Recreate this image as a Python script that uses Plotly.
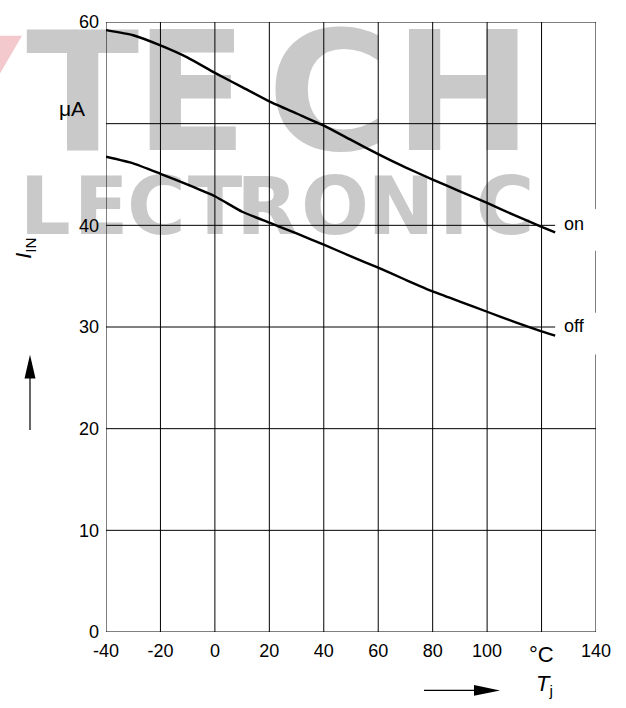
import plotly.graph_objects as go

# ---- data ----
temp = [-40, -30, -20, -10, 0, 10, 20, 30, 40, 50, 60, 70, 80, 90, 100, 110, 120, 125]
i_on = [59.2, 58.7, 57.7, 56.5, 55.0, 53.6, 52.2, 51.0, 49.8, 48.4, 47.0, 45.7, 44.5, 43.35, 42.2, 41.0, 39.85, 39.3]
i_off = [46.75, 46.1, 45.07, 44.0, 42.86, 41.34, 40.27, 39.2, 38.1, 36.95, 35.83, 34.65, 33.5, 32.5, 31.5, 30.5, 29.57, 29.15]

x_ticks = [-40, -20, 0, 20, 40, 60, 80, 100, 120, 140]
x_tick_text = ["-40", "-20", "0", "20", "40", "60", "80", "100", "", "140"]
y_ticks = [0, 10, 20, 30, 40, 50, 60]
y_tick_text = ["0", "10", "20", "30", "40", "", "60"]

curve_labels = ["on", "off"]

# watermark letters (decoration, drawn beneath the curves)
NB = "\u00a0"
wm_text = ["T", "E", "C", "H",
           "L" + NB * 2, "E", "C", "T", "R", "O", "N", "I", "C"]
wm_x = [-27.8, -8.7, 41.6, 91.2,
        -32.5, -31.8, -21.5, 0.1, 19.2, 44.1, 68.4, 87.8, 106.6]
wm_y = [51.5, 51.5, 51.5, 51.5,
        41.1, 41.1, 41.1, 41.1, 41.1, 41.1, 41.1, 41.1, 41.1]
wm_size = [166, 166, 166, 166,
           80, 80, 80, 80, 80, 80, 80, 80, 80]
wm_pos = ["middle left", "middle center", "middle center", "middle center",
          "middle left", "middle left", "middle center", "middle center", "middle center",
          "middle center", "middle center", "middle center", "middle center"]

FONT = "Liberation Sans, Arial, Helvetica, sans-serif"

fig = go.Figure()

fig.add_trace(go.Scatter(
    x=wm_x, y=wm_y, mode="text", text=wm_text, textposition=wm_pos,
    textfont=dict(family="Liberation Sans Narrow, DejaVu Sans, sans-serif", size=wm_size,
                  color="#c9c9c9", weight="bold"),
    cliponaxis=False, hoverinfo="skip", showlegend=False))

# curves
for ys in (i_on, i_off):
    fig.add_trace(go.Scatter(
        x=temp, y=ys, mode="lines",
        line=dict(color="black", width=2.4, shape="spline", smoothing=0.5),
        hoverinfo="skip", showlegend=False, cliponaxis=False))

shapes = []
xmin, xmax = x_ticks[0], x_ticks[-1]
ymin, ymax = y_ticks[0], y_ticks[-1]
curve_end = temp[-1]
line_style = dict(color="black", width=1)

# vertical grid lines (left border included; right border drawn with gaps)
for xv in x_ticks[:-1]:
    shapes.append(dict(type="line", xref="x", yref="y", x0=xv, x1=xv, y0=ymin, y1=ymax,
                       line=line_style, layer="above"))
# right border with gaps next to the curve labels
for y0, y1 in [(ymax, 41.6), (37.5, 31.4), (27.3, ymin)]:
    shapes.append(dict(type="line", xref="x", yref="y", x0=xmax, x1=xmax, y0=y0, y1=y1,
                       line=line_style, layer="above"))
# horizontal grid lines
for yv in y_ticks:
    xe = curve_end if yv in (30, 40) else xmax
    shapes.append(dict(type="line", xref="x", yref="y", x0=xmin, x1=xe, y0=yv, y1=yv,
                       line=line_style, layer="above"))

# pixel -> paper helpers for decorations
L, R, T, B, W, H = 106, 30, 16, 76, 626, 708
PW, PH = W - L - R, H - T - B
def px(x):
    return (x - L) / PW
def py(y):
    return (H - B - y) / PH

# pink logo fragment top-left
shapes.append(dict(type="path", xref="paper", yref="paper",
                   path=f"M {px(0)} {py(30)} L {px(22)} {py(30)} L {px(0)} {py(68)} Z",
                   fillcolor="#f3c9cd", line=dict(width=0), layer="below"))

# up arrow beside y title
shapes.append(dict(type="line", xref="paper", yref="paper", x0=px(30), x1=px(30),
                   y0=py(428), y1=py(372), line=dict(color="black", width=1.2)))
shapes.append(dict(type="path", xref="paper", yref="paper",
                   path=f"M {px(30)} {py(352)} L {px(24.5)} {py(376)} L {px(35.5)} {py(376)} Z",
                   fillcolor="black", line=dict(width=0)))
# right arrow beside x title
shapes.append(dict(type="line", xref="paper", yref="paper", x0=px(424), x1=px(478),
                   y0=py(691), y1=py(691), line=dict(color="black", width=1.2)))
shapes.append(dict(type="path", xref="paper", yref="paper",
                   path=f"M {px(500)} {py(691)} L {px(474)} {py(685.5)} L {px(474)} {py(696.5)} Z",
                   fillcolor="black", line=dict(width=0)))

def ann(x, y, text, size, xref="paper", yref="paper", **kw):
    d = dict(x=x, y=y, xref=xref, yref=yref, text=text, showarrow=False,
             xanchor="center", yanchor="middle",
             font=dict(family=FONT, size=size, color="black"))
    d.update(kw)
    return d

annotations = [
    ann(px(72), py(103), "μA", 21),
    ann(120, py(655), "°C", 22, xref="x"),
    ann(px(25), py(244), "<i>I</i><sub>IN</sub>", 22, textangle=-90),
    ann(px(544), py(686), "<i>T</i><sub>j</sub>", 22),
    ann(127.5, 40.1, curve_labels[0], 18, xref="x", yref="y", xanchor="left"),
    ann(127.5, 30.1, curve_labels[1], 18, xref="x", yref="y", xanchor="left"),
]

fig.update_layout(
    width=W, height=H,
    margin=dict(l=L, r=R, t=T, b=B, pad=0),
    paper_bgcolor="white", plot_bgcolor="white",
    showlegend=False,
    shapes=shapes, annotations=annotations,
    font=dict(family=FONT, size=18, color="black"),
    xaxis=dict(range=[xmin, xmax], tickvals=x_ticks, ticktext=x_tick_text, showgrid=False,
               zeroline=False, showline=False, ticks="", ticklabelstandoff=6,
               tickfont=dict(family=FONT, size=18, color="black"), fixedrange=True),
    yaxis=dict(range=[ymin, ymax], tickvals=y_ticks, ticktext=y_tick_text, showgrid=False,
               zeroline=False, showline=False, ticks="", ticklabelstandoff=6,
               tickfont=dict(family=FONT, size=18, color="black"), fixedrange=True),
)

fig.write_html("out.html", config={"displayModeBar": False},
               post_script="document.body.style.margin='0';document.body.style.overflow='hidden';")
